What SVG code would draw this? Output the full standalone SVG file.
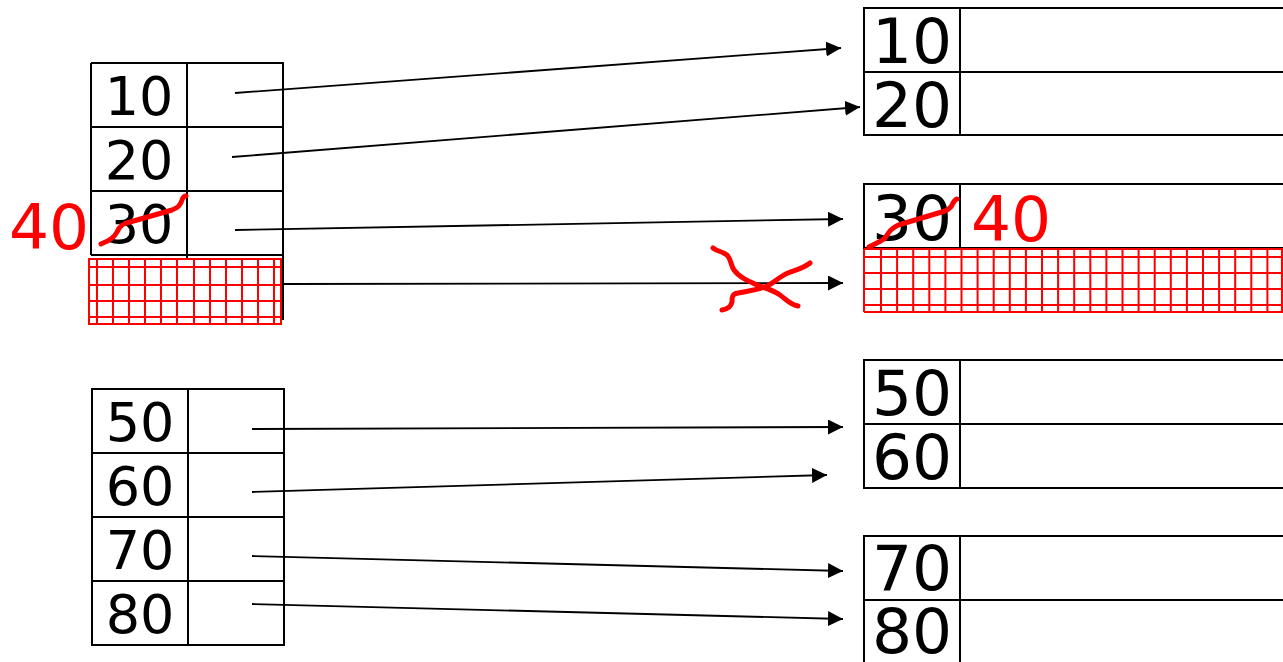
<svg xmlns="http://www.w3.org/2000/svg" width="1283" height="662" viewBox="0 0 1283 662">
<style>
.box{fill:none;stroke:#000;stroke-width:2}
.lbl{font-family:"DejaVu Sans",sans-serif;fill:#000;text-anchor:middle}
.s{font-size:54px}
.b{font-size:63px}
.red{font-family:"DejaVu Sans",sans-serif;fill:#ff0000;font-size:63px;text-anchor:middle}
.grid{fill:none;stroke:#ff0000;stroke-width:2}
.scr{fill:none;stroke:#ff0000;stroke-width:5;stroke-linecap:round;stroke-linejoin:round}
.arr{stroke:#000;stroke-width:1.8;fill:none;marker-end:url(#ah)}
</style>
<defs>
<marker id="ah" markerUnits="userSpaceOnUse" markerWidth="16" markerHeight="16" refX="15" refY="7.5" orient="auto">
<path d="M0,0 L15,7.5 L0,15 z" fill="#000"/>
</marker>
</defs>
<rect width="1283" height="662" fill="#fff"/>

<g id="index1">
<path class="box" d="M91,63 H283 V320 M91,63 V255 M91,127 H283 M91,191 H283 M91,255 H283 M187,63 V260"/>
<text class="lbl s" x="139" y="115">10</text>
<text class="lbl s" x="139" y="179">20</text>
<text class="lbl s" x="139" y="243">30</text>
<rect x="89" y="259" width="192" height="65" fill="#fff"/>
<path class="grid" d="M89,259 H281 V324 H89 Z M97,259 V324 M113,259 V324 M129,259 V324 M145,259 V324 M161,259 V324 M177,259 V324 M194,259 V324 M210,259 V324 M226,259 V324 M242,259 V324 M258,259 V324 M274,259 V324 M89,267 H281 M89,285 H281 M89,301 H281 M89,317 H281"/>
<path class="scr" d="M101,244 C110,240 114,238 117,232 C120,225 124,223 130,222 L172,210 C178,208 181,204 182,200 C183,197 185,196 186,196"/>
<text class="red" x="49" y="249">40</text>
</g>

<g id="index2">
<path class="box" d="M92,389 H284 V645 H92 Z M92,453 H284 M92,517 H284 M92,581 H284 M188,389 V645"/>
<text class="lbl s" x="140" y="441">50</text>
<text class="lbl s" x="140" y="505">60</text>
<text class="lbl s" x="140" y="569">70</text>
<text class="lbl s" x="140" y="633">80</text>
</g>

<g id="block1">
<path class="box" d="M1283,8 H864 V135 H1283 M864,72 H1283 M960,8 V135"/>
<text class="lbl b" x="912" y="63">10</text>
<text class="lbl b" x="912" y="127">20</text>
</g>

<g id="block2">
<path class="box" d="M1283,184 H864 V312 M864,248 H1283 M960,184 V248"/>
<text class="lbl b" x="912" y="240">30</text>
<path class="grid" d="M864,249 H1283 M864,312 H1283 M864,249 V312 M881,249 V312 M897.1,249 V312 M913.2,249 V312 M929.3,249 V312 M945.4,249 V312 M961.5,249 V312 M977.6,249 V312 M993.7,249 V312 M1009.8,249 V312 M1025.9,249 V312 M1042,249 V312 M1058.1,249 V312 M1074.2,249 V312 M1090.3,249 V312 M1106.4,249 V312 M1122.5,249 V312 M1138.6,249 V312 M1154.7,249 V312 M1170.8,249 V312 M1186.9,249 V312 M1203,249 V312 M1219.1,249 V312 M1235.2,249 V312 M1251.3,249 V312 M1267.4,249 V312 M1282,249 V312 M864,257 H1283 M864,273 H1283 M864,289 H1283 M864,305 H1283"/>
<path class="scr" d="M869,247 C876,243 882,241 885,238 C888,234 889,231 892,229 C896,226 900,224 905,223 L945,211 C950,209 952,206 953,203 C955,200 956,199 957,199"/>
<text class="red" x="1011" y="241">40</text>
</g>

<g id="block3">
<path class="box" d="M1283,360 H864 V488 H1283 M864,424 H1283 M960,360 V488"/>
<text class="lbl b" x="912" y="415">50</text>
<text class="lbl b" x="912" y="479">60</text>
</g>

<g id="block4">
<path class="box" d="M1283,536 H864 V662 M864,600 H1283 M960,536 V662"/>
<text class="lbl b" x="912" y="590">70</text>
<text class="lbl b" x="912" y="653">80</text>
</g>

<g id="connectors">
<line class="arr" x1="235" y1="93" x2="841" y2="48"/>
<line class="arr" x1="232" y1="157" x2="860" y2="107"/>
<line class="arr" x1="235" y1="230" x2="843" y2="219"/>
<line class="arr" x1="283" y1="284" x2="843" y2="283"/>
<line class="arr" x1="252" y1="429" x2="843" y2="427"/>
<line class="arr" x1="252" y1="492" x2="827" y2="475"/>
<line class="arr" x1="252" y1="556" x2="843" y2="571"/>
<line class="arr" x1="252" y1="604" x2="843" y2="619"/>
</g>

<g id="cross">
<path class="scr" d="M713,248 C718,252 722,251 727,255 C731,259 731,266 734,270 C739,277 748,281 757,285 C765,288 773,290 780,295 C786,299 789,304 798,306"/>
<path class="scr" d="M722,310 C728,309 731,307 732,302 C732,297 732,294 738,293 C748,291 758,290 767,286 C774,283 780,276 788,273 C796,270 804,268 810,263"/>
</g>
</svg>
